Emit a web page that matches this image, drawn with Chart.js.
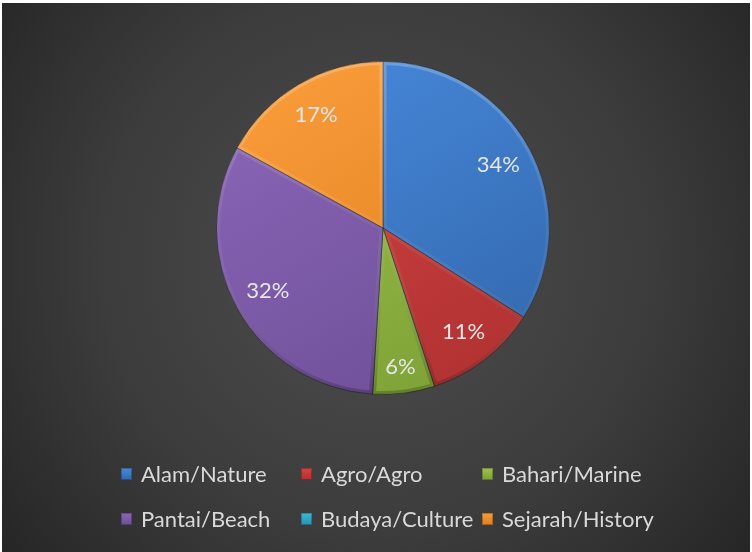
<!DOCTYPE html>
<html>
<head>
<meta charset="utf-8">
<script src="https://cdn.jsdelivr.net/npm/chart.js@4/dist/chart.umd.min.js"></script>
<style>
  html, body { margin: 0; padding: 0; background: #ffffff; }
  #wrap { width: 752px; height: 552px; position: relative; }
  canvas { display: block; }
</style>
</head>
<body>
<div id="wrap"><canvas id="c" width="752" height="552"></canvas></div>
<script>
// ---- data ----
const categories = ["Alam/Nature", "Agro/Agro", "Bahari/Marine", "Pantai/Beach", "Budaya/Culture", "Sejarah/History"];
const shares = [34, 11, 6, 32, 0, 17];
const lightColors = ["#4789DB", "#D44444", "#9EC34C", "#8A66B8", "#3DBAD9", "#F99C3A"];
const darkColors  = ["#3368AE", "#B03131", "#7CA035", "#6D4E96", "#2890AD", "#E07E1F"];

function sliceFill(ctx) {
  const i = ctx.dataIndex;
  const chart = ctx.chart;
  const a = chart.chartArea;
  if (!a || i === undefined) return lightColors[i || 0];
  const cx = (a.left + a.right) / 2, cy = (a.top + a.bottom) / 2;
  const r = Math.min(a.width, a.height) / 2;
  const g = chart.ctx.createLinearGradient(cx - r * 0.6, cy - r, cx + r * 0.6, cy + r);
  g.addColorStop(0, lightColors[i]);
  g.addColorStop(1, darkColors[i]);
  return g;
}

const bgPlugin = {
  id: 'bg',
  beforeDraw(chart) {
    const c = chart.ctx, W = chart.width, H = chart.height;
    c.save();
    c.fillStyle = '#ffffff';
    c.fillRect(0, 0, W, H);
    const g = c.createRadialGradient(376, 260, 0, 376, 260, 500);
    g.addColorStop(0, '#4e4e4e');
    g.addColorStop(0.55, '#3c3c3c');
    g.addColorStop(1, '#232323');
    c.fillStyle = g;
    c.fillRect(2, 3, W - 4, H - 3);
    c.restore();
  }
};

const bevelPlugin = {
  id: 'bevel',
  afterDatasetsDraw(chart) {
    const c = chart.ctx;
    const meta = chart.getDatasetMeta(0);
    c.save();
    meta.data.forEach((arc, i) => {
      if (!chart.data.datasets[0].data[i]) return;
      const r = arc.outerRadius;
      c.save();
      c.beginPath();
      c.moveTo(arc.x, arc.y);
      c.arc(arc.x, arc.y, r, arc.startAngle, arc.endAngle);
      c.closePath();
      c.clip();
      const g = c.createLinearGradient(arc.x, arc.y - r, arc.x, arc.y + r);
      g.addColorStop(0, 'rgba(255,255,255,0.22)');
      g.addColorStop(0.5, 'rgba(255,255,255,0.05)');
      g.addColorStop(1, 'rgba(0,0,0,0.22)');
      c.strokeStyle = g;
      c.lineWidth = 7;
      c.lineJoin = 'round';
      c.stroke();
      c.restore();
    });
    c.restore();
  }
};

const labelPlugin = {
  id: 'pctLabels',
  afterDatasetsDraw(chart) {
    const c = chart.ctx;
    const meta = chart.getDatasetMeta(0);
    c.save();
    c.font = '22px Lato, "Open Sans", sans-serif';
    c.fillStyle = '#E6E6E6';
    c.textAlign = 'center';
    c.textBaseline = 'middle';
    meta.data.forEach((arc, i) => {
      const v = chart.data.datasets[0].data[i];
      if (!v) return;
      const mid = (arc.startAngle + arc.endAngle) / 2;
      const rr = arc.outerRadius * (v < 8 ? 0.84 : 0.79);
      const x = arc.x + Math.cos(mid) * rr;
      const y = arc.y + Math.sin(mid) * rr;
      c.fillText(v + '%', x, y);
    });
    c.restore();
  }
};

const legendPlugin = {
  id: 'gridLegend',
  afterDraw(chart) {
    const c = chart.ctx;
    const colX = [121, 301, 482];
    const rowY = [474, 519];
    c.save();
    c.font = '22px Lato, "Open Sans", sans-serif';
    c.textBaseline = 'middle';
    c.textAlign = 'left';
    chart.data.labels.forEach((lab, i) => {
      const x = colX[i % 3], y = rowY[Math.floor(i / 3)];
      const g = c.createLinearGradient(x, y - 6, x, y + 6);
      g.addColorStop(0, lightColors[i]);
      g.addColorStop(1, darkColors[i]);
      c.fillStyle = g;
      c.fillRect(x, y - 6, 11, 12);
      c.strokeStyle = 'rgba(0,0,0,0.25)';
      c.lineWidth = 1;
      c.strokeRect(x + 0.5, y - 5.5, 10, 11);
      c.fillStyle = '#D9D9D9';
      c.fillText(lab, x + 20, y + 1);
    });
    c.restore();
  }
};

new Chart(document.getElementById('c'), {
  type: 'pie',
  data: {
    labels: categories,
    datasets: [{
      data: shares,
      backgroundColor: sliceFill,
      borderColor: 'rgba(30,30,30,0.55)',
      borderWidth: 1
    }]
  },
  options: {
    responsive: false,
    animation: false,
    layout: { padding: { top: 61, bottom: 157, left: 14, right: 0 } },
    plugins: { legend: { display: false }, tooltip: { enabled: false } }
  },
  plugins: [bgPlugin, bevelPlugin, labelPlugin, legendPlugin]
});
</script>
</body>
</html>
